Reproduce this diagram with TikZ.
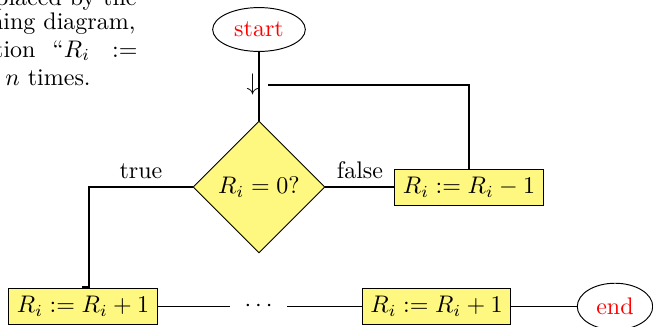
\documentclass[tikz,border=0pt]{standalone}
\usetikzlibrary{shapes.geometric}
\begin{document}
\begin{tikzpicture}[x=0.41667pt,y=-0.41667pt,
  conn/.style={thick},
  opbox/.style={rectangle, draw=black, fill=yellow!50, inner sep=3.33pt},
  decision/.style={diamond, draw=black, fill=yellow!50, minimum width=55pt, minimum height=55pt, inner sep=0pt},
  term/.style={ellipse, draw=black, text=red},
  para/.style={inner sep=0pt}]
\useasboundingbox (0,0) rectangle (653,326);
\clip (0,0) rectangle (653,326);
% wrapped paragraph text (cut by the margin)
\node[para, anchor=base east] (p1) at (137,5) {placed by the};
\node[para, anchor=base east] (p2) at (136,29.5) {ning diagram,};
\node[para, anchor=base east] (p3a) at (36,57) {tion};
\node[para, anchor=base west] (p3b) at (52,57) {“$R_i$};
\node[para, anchor=base east] (p3c) at (138,57) {$:=$};
\node[para, anchor=base west] (p4) at (5,85) {$n$ times.};
% flowchart nodes
\node[term] (start) at (259,29.5) {start};
\node[decision] (dec) at (259,187) {$R_i = 0?$};
\node[opbox] (dek) at (469,187) {$R_i := R_i - 1$};
\node[opbox] (inc1) at (83,306.5) {$R_i := R_i + 1$};
\node[inner sep=6pt] (dots) at (258.5,306.5) {$\cdots$};
\node[opbox] (inc2) at (436.5,306.5) {$R_i := R_i + 1$};
\node[term] (end) at (615,306.5) {end};
\node[inner sep=0pt] (arr) at (252.5,84) {$\downarrow$};
\coordinate (lp) at (268,85);
\coordinate (tc) at (89,287);
% connectors
\draw[conn] (start) -- (dec);
\draw[conn] (dek.north) |- (lp);
\draw[conn] (dec.east) -- (dek.west);
\draw[conn] (dec.west) -| (tc) -| (inc1.north);
\draw[conn] (inc1) -- (dots) -- (inc2) -- (end);
% labels
\node[inner sep=0pt, anchor=base] (tl) at (141,178) {true};
\node[inner sep=0pt, anchor=base] (fl) at (360,178) {false};
\end{tikzpicture}
\end{document}
